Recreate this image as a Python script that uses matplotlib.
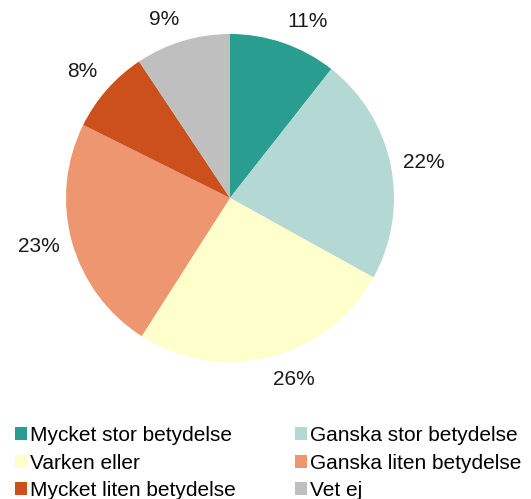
import numpy as np
import matplotlib.pyplot as plt
from matplotlib.patches import Patch

plt.rcParams['font.family'] = ['Liberation Sans', 'DejaVu Sans']

categories = ['Mycket stor betydelse', 'Ganska stor betydelse', 'Varken eller',
              'Ganska liten betydelse', 'Mycket liten betydelse', 'Vet ej']
values = [10.6, 22.45, 26.0, 23.3, 8.3, 9.35]
colors = ['#2A9D91', '#B4D8D4', '#FFFFCC', '#EE9670', '#CC501C', '#BFBFBF']

W, H = 531, 499
fig = plt.figure(figsize=(W / 100, H / 100), dpi=100)

# pie centre ~(230, 198) px, radius ~164 px
cx, cy, r = 230, 198, 164
ax = fig.add_axes([(cx - r) / W, (H - cy - r) / H, 2 * r / W, 2 * r / H])
wedges, _ = ax.pie(values, colors=colors, startangle=90, counterclock=False,
                   wedgeprops=dict(linewidth=0))
ax.set_xlim(-1, 1)
ax.set_ylim(-1, 1)
ax.axis('off')

# labels outside end: text box pushed off the mid ray, away from the pie
total = sum(values)
renderer = fig.canvas.get_renderer()
dist = 177 / r
for w, v in zip(wedges, values):
    ang = np.deg2rad((w.theta1 + w.theta2) / 2)
    ux, uy = np.cos(ang), np.sin(ang)
    t = ax.text(0, 0, f'{100 * v / total:.0f}%', fontsize=15, color='#1a1a1a',
                ha='center', va='center', clip_on=False)
    bb = t.get_window_extent(renderer)
    a = bb.width / 2 / r
    b = bb.height / 2 / r
    fy = min(1, max(0, (abs(uy) - 0.2) / 0.4))
    t.set_position((dist * ux + a * np.sign(ux), dist * uy + b * fy * np.sign(uy)))

order = [0, 2, 4, 1, 3, 5]  # legend filled row by row
handles = [Patch(facecolor=colors[i], edgecolor='none') for i in order]
labels = [categories[i] for i in order]
fig.legend(handles, labels, ncol=2, loc='upper left',
           bbox_to_anchor=(15 / W, 1 - 426 / H), frameon=False, fontsize=15,
           handlelength=0.58, handleheight=0.58, handletextpad=0.15,
           columnspacing=2.82, labelspacing=0.41, borderaxespad=0, borderpad=0)

fig.savefig('out.png', dpi=100)
